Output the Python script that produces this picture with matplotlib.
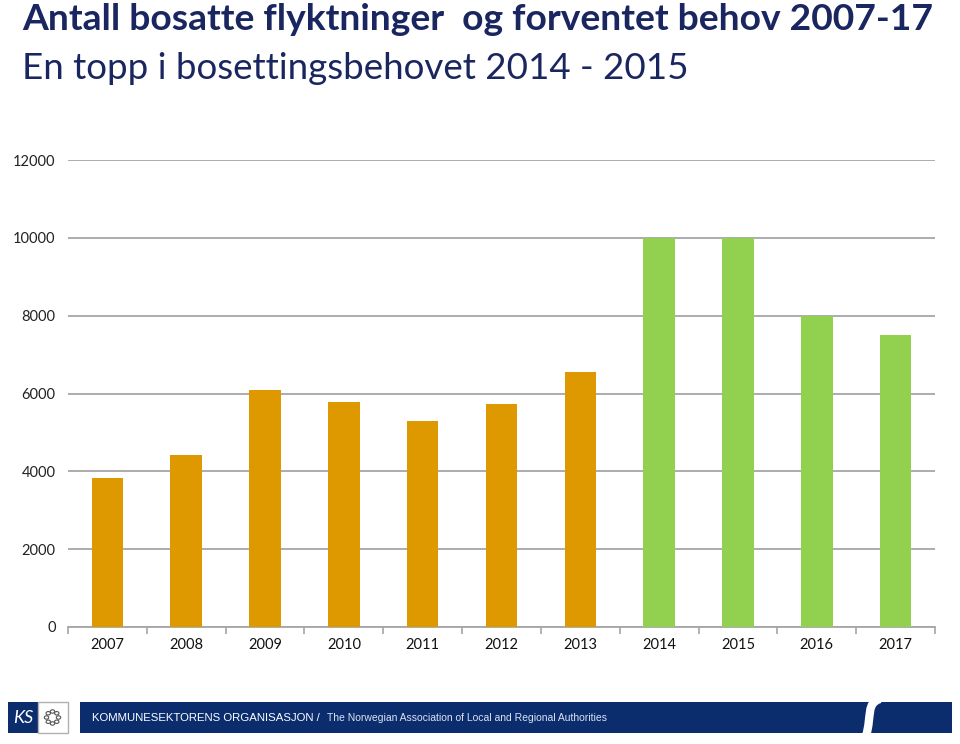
import matplotlib
matplotlib.use("Agg")
import matplotlib.pyplot as plt
from matplotlib.patches import Rectangle, Circle, PathPatch
from matplotlib.path import Path
import numpy as np

# ---- data ----
years = ["2007", "2008", "2009", "2010", "2011", "2012", "2013",
         "2014", "2015", "2016", "2017"]
settled = [3840, 4420, 6085, 5790, 5300, 5730, 6550]      # actual settled (orange)
expected = [10000, 10000, 8000, 7500]                      # expected need (green)
yticks = [0, 2000, 4000, 6000, 8000, 10000, 12000]

title1 = "Antall bosatte flyktninger  og forventet behov 2007-17"
title2 = "En topp i bosettingsbehovet 2014 - 2015"
footer_a = "KOMMUNESEKTORENS ORGANISASJON / "
footer_b = "The Norwegian Association of Local and Regional Authorities"

ORANGE = "#DF9900"
GREEN = "#92D050"
NAVY_T = "#1A2660"
NAVY_F = "#0B2D6E"
GRID = "#A6A6A6"

W, H = 960, 744
fig = plt.figure(figsize=(W / 100, H / 100), dpi=100)
fig.patch.set_facecolor("white")

def fx(x):
    return x / W

def fy(y):
    return 1 - y / H

FONT = ["Lato", "DejaVu Sans"]

# ---- axes ----
ax = fig.add_axes([fx(68), fy(627), fx(935) - fx(68), fy(160) - fy(627)])
n_set = len(settled)
x_set = np.arange(n_set)
x_exp = np.arange(n_set, n_set + len(expected))
ax.bar(x_set, settled, width=0.4, color=ORANGE, zorder=3)
ax.bar(x_exp, expected, width=0.4, color=GREEN, zorder=3)

ax.set_xlim(-0.5, len(years) - 0.5)
ax.set_ylim(0, 12000)
ax.set_yticks(yticks)
ax.set_yticklabels([str(v) for v in yticks], fontsize=10.5, family=FONT, color="#222222")
ax.set_xticks(np.arange(len(years)))
ax.set_xticklabels(years, fontsize=10.5, family=FONT, color="#111111")
ax.set_xticks(np.arange(len(years) + 1) - 0.5, minor=True)
ax.tick_params(axis="x", which="major", length=0, pad=8)
ax.tick_params(axis="x", which="minor", length=5, color=GRID, width=1.2, direction="out")
ax.tick_params(axis="y", length=0, pad=9)
ax.yaxis.grid(True, color=GRID, linewidth=1.3, zorder=0)
ax.set_axisbelow(True)
for s in ["left", "right", "top"]:
    ax.spines[s].set_visible(False)
ax.spines["bottom"].set_color(GRID)
ax.spines["bottom"].set_linewidth(1.3)

# ---- titles (auto-fit widths) ----
renderer = fig.canvas.get_renderer()

def fit_text(x, y, s, target_w, weight, color, size0=26, family=FONT, va="baseline"):
    t = fig.text(fx(x), fy(y), s, fontsize=size0, weight=weight, color=color,
                 family=family, ha="left", va=va)
    w = t.get_window_extent(renderer).width
    t.set_fontsize(size0 * target_w / w)
    return t

fit_text(22, 30, title1, 913, "bold", NAVY_T)
fit_text(22, 79, title2, 665, "normal", NAVY_T)

# ---- footer ----
# KS logo box
fig.patches.append(Rectangle((fx(8), fy(733)), fx(30) , fy(702) - fy(733),
                             transform=fig.transFigure, facecolor=NAVY_F, edgecolor="none"))
fig.patches.append(Rectangle((fx(38), fy(733)), fx(30), fy(702) - fy(733),
                             transform=fig.transFigure, facecolor="white", edgecolor="#B0B0B0",
                             linewidth=1))
fig.text(fx(23), fy(718), "KS", color="white", fontsize=13, family=FONT, style="italic",
         ha="center", va="center")
cx, cy = 52.5, 717.5
for a in np.linspace(0, 2 * np.pi, 9)[:-1]:
    fig.patches.append(Circle((fx(cx + 6 * np.cos(a)), fy(cy + 6 * np.sin(a))), fx(2.2),
                              transform=fig.transFigure, facecolor="white",
                              edgecolor="#555555", linewidth=0.8))
# band
fig.patches.append(Rectangle((fx(80), fy(733)), fx(952) - fx(80), fy(702) - fy(733),
                             transform=fig.transFigure, facecolor=NAVY_F, edgecolor="none"))
verts = [(fx(880), fy(699)), (fx(866), fy(703)), (fx(872), fy(716)), (fx(866), fy(736))]
codes = [Path.MOVETO, Path.CURVE4, Path.CURVE4, Path.CURVE4]
fig.patches.append(PathPatch(Path(verts, codes), transform=fig.transFigure,
                             facecolor="none", edgecolor="white", linewidth=6,
                             capstyle="butt"))

ta = fit_text(92, 718, footer_a, 233, "normal", "white", size0=9,
              family=["Liberation Sans Narrow", "Liberation Sans", "DejaVu Sans"], va="center")
tb = fit_text(327, 718, footer_b, 281, "normal", "#DDE3F0", size0=7,
              family=["Liberation Sans Narrow", "Liberation Sans", "DejaVu Sans"], va="center")

fig.savefig("out.png", dpi=100, facecolor="white")
